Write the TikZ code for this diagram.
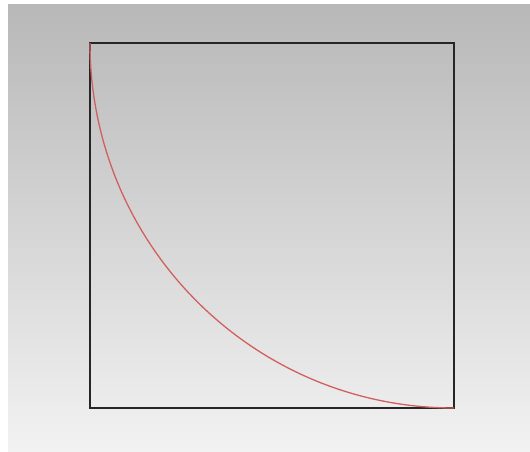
\documentclass[tikz,border=0pt]{standalone}
\begin{document}
\begin{tikzpicture}[x=1pt,y=-1pt,
  box/.style={draw=black!85,line width=2pt},
  arc/.style={draw={rgb,255:red,208;green,96;blue,96},line width=1.3pt}]
\useasboundingbox (0,0) rectangle (530,452);
\fill[white] (0,0) rectangle (530,452);
\shade[top color={rgb,255:red,184;green,184;blue,184},bottom color={rgb,255:red,242;green,242;blue,242}] (8,5) rectangle (530,451);
\coordinate (tl) at (90,43);
\coordinate (br) at (454,408);
\draw[box] (tl) rectangle (br);
\draw[arc] (tl) arc[start angle=180,end angle=90,x radius=364,y radius=365];
\end{tikzpicture}
\end{document}
